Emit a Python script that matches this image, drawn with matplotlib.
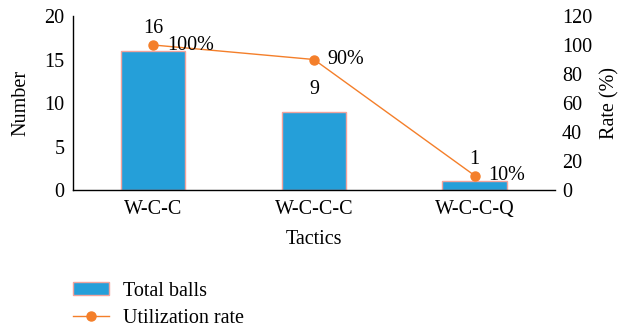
import numpy as np
import matplotlib.pyplot as plt
from matplotlib.patches import Patch
from matplotlib.lines import Line2D

plt.rcParams['font.family'] = ['Liberation Serif', 'DejaVu Serif']
plt.rcParams['font.size'] = 14.5

# Data
tactics = ['W-C-C', 'W-C-C-C', 'W-C-C-Q']
total_balls = [16, 9, 1]
utilization_rate = [100, 90, 10]
rate_labels = ['100%', '90%', '10%']

bar_color = '#259fd9'
bar_edge = '#f2a39c'
line_color = '#f47f2a'

fig = plt.figure(figsize=(6.21, 3.30), dpi=100)
ax = fig.add_axes([0.1176, 0.4242, 0.776, 0.5273])
x = np.arange(len(tactics))

ax.bar(x, total_balls, width=0.4, color=bar_color, edgecolor=bar_edge, linewidth=1.0, zorder=2)
ax.set_xlim(-0.5, 2.5)
ax.set_ylim(0, 20)
ax.set_yticks([0, 5, 10, 15, 20])
ax.set_xticks(x)
ax.set_xticklabels(tactics)
ax.tick_params(axis='x', length=0, pad=7)
ax.tick_params(axis='y', length=0, pad=6)
ax.set_ylabel('Number', labelpad=10)
ax.set_xlabel('Tactics', labelpad=8)
for side in ['top', 'right']:
    ax.spines[side].set_visible(False)
ax.spines['left'].set_linewidth(1.0)
ax.spines['bottom'].set_linewidth(1.0)

for xi, v in zip(x, total_balls):
    ax.annotate(str(v), (xi, v), xytext=(0, 16), textcoords='offset points',
                ha='center', va='center')

# Secondary axis for utilization rate
ax2 = ax.twinx()
ax2.plot(x, utilization_rate, color=line_color, linewidth=1.0, marker='o',
         markersize=6.5, zorder=3)
ax2.set_ylim(0, 120)
ax2.set_yticks(range(0, 121, 20))
ax2.tick_params(axis='y', length=0, pad=5)
ax2.set_ylabel('Rate (%)', labelpad=6)
for side in ['top', 'right', 'left', 'bottom']:
    ax2.spines[side].set_visible(False)

for xi, v, lab in zip(x, utilization_rate, rate_labels):
    ax2.annotate(lab, (xi, v), xytext=(10, 0), textcoords='offset points',
                 ha='left', va='center')

handles = [
    Patch(facecolor=bar_color, edgecolor=bar_edge, linewidth=1.0),
    Line2D([0], [0], color=line_color, linewidth=1.0, marker='o', markersize=6.5),
]
fig.legend(handles, ['Total balls', 'Utilization rate'], loc='upper left',
           bbox_to_anchor=(0.105, 0.17), frameon=False, handlelength=1.75,
           handleheight=0.6, handletextpad=0.7, labelspacing=0.4, borderaxespad=0)

fig.savefig('out.png', dpi=100)
